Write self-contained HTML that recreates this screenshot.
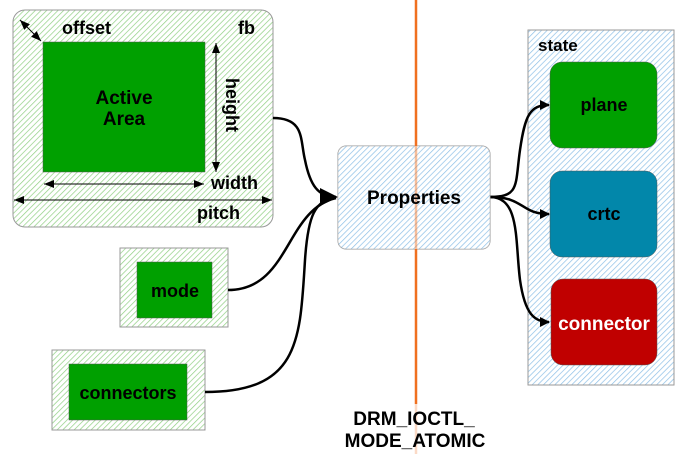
<!DOCTYPE html>
<html><head><meta charset="utf-8"><style>
html,body{margin:0;padding:0;background:#fff;width:700px;height:456px;overflow:hidden}
svg text{font-family:"Liberation Sans",sans-serif;font-weight:bold}
</style></head><body>
<svg width="700" height="456" viewBox="0 0 700 456" xmlns="http://www.w3.org/2000/svg">
<defs>
<pattern id="hg" width="4" height="4" patternUnits="userSpaceOnUse" patternTransform="rotate(45)">
<rect width="4" height="4" fill="#fff"/><line x1="0" y1="0" x2="0" y2="4" stroke="#8fcf82" stroke-width="1.4"/></pattern>
<pattern id="hb" width="4" height="4" patternUnits="userSpaceOnUse" patternTransform="rotate(45)">
<rect width="4" height="4" fill="#fff"/><line x1="0" y1="0" x2="0" y2="4" stroke="#8cbfe6" stroke-width="1.4"/></pattern>
<marker id="a" markerWidth="10" markerHeight="10" refX="9" refY="5" orient="auto" markerUnits="userSpaceOnUse"><path d="M0,0 L10,5 L0,10 Z" fill="#000"/></marker>
<marker id="s" markerWidth="10" markerHeight="10" refX="10" refY="5" orient="auto-start-reverse" markerUnits="userSpaceOnUse"><path d="M0,1 L10,5 L0,9 Z" fill="#000"/></marker>
<marker id="big" markerWidth="18" markerHeight="18" refX="16" refY="9" orient="auto" markerUnits="userSpaceOnUse"><path d="M0,0 L18,9 L0,18 Z" fill="#000"/></marker>
</defs>
<rect x="13" y="10" width="260" height="217" rx="12" fill="url(#hg)" stroke="#999"/>
<rect x="43" y="42" width="162" height="130" fill="#00a000" stroke="#555" stroke-width="0.5"/>
<text x="124" y="104" font-size="19" text-anchor="middle">Active</text>
<text x="124" y="125" font-size="19" text-anchor="middle">Area</text>
<text x="62" y="34" font-size="18">offset</text>
<text x="238" y="34" font-size="18">fb</text>
<line x1="20" y1="20" x2="41" y2="41" stroke="#000" marker-start="url(#s)" marker-end="url(#s)"/>
<line x1="216" y1="43" x2="216" y2="172" stroke="#000" marker-start="url(#s)" marker-end="url(#s)"/>
<text transform="translate(226,78) rotate(90)" font-size="18">height</text>
<line x1="44" y1="184" x2="204" y2="184" stroke="#000" marker-start="url(#s)" marker-end="url(#s)"/>
<text x="211" y="189" font-size="18">width</text>
<line x1="14" y1="200" x2="272" y2="200" stroke="#000" marker-start="url(#s)" marker-end="url(#s)"/>
<text x="197" y="219" font-size="18">pitch</text>
<rect x="120" y="248" width="108" height="79" fill="url(#hg)" stroke="#999"/>
<rect x="137" y="262" width="75" height="56" fill="#00a000" stroke="#555" stroke-width="0.5"/>
<text x="175" y="297" font-size="18" text-anchor="middle">mode</text>
<rect x="52" y="350" width="153" height="80" fill="url(#hg)" stroke="#999"/>
<rect x="69" y="364" width="118" height="56" fill="#00a000" stroke="#555" stroke-width="0.5"/>
<text x="128" y="399" font-size="18" text-anchor="middle">connectors</text>
<rect x="528" y="30" width="146" height="355" fill="url(#hb)" stroke="#999"/>
<text x="538" y="51" font-size="17">state</text>
<rect x="550" y="62" width="107" height="86" rx="12" fill="#00a000" stroke="#555" stroke-width="0.5"/>
<text x="604" y="111" font-size="18" text-anchor="middle">plane</text>
<rect x="550" y="171" width="107" height="86" rx="12" fill="#0287aa" stroke="#555" stroke-width="0.5"/>
<text x="604" y="220" font-size="18" text-anchor="middle">crtc</text>
<rect x="551" y="279" width="106" height="86" rx="12" fill="#c00000" stroke="#555" stroke-width="0.5"/>
<text x="604" y="330" font-size="19" text-anchor="middle" fill="#fff">connector</text>
<path d="M273,118 C305,118 300,140 305,160 C310,185 318,197 336,197" fill="none" stroke="#000" stroke-width="2.5" marker-end="url(#big)"/>
<path d="M228,290 C290,290 285,210 336,198" fill="none" stroke="#000" stroke-width="2.5"/>
<path d="M205,392 C300,392 300,340 305,260 C308,215 315,200 336,198" fill="none" stroke="#000" stroke-width="2.5"/>
<path d="M490,197 C520,197 515,185 520,150 C525,115 530,105 549,105" fill="none" stroke="#000" stroke-width="2.5" marker-end="url(#a)"/>
<path d="M490,197 C525,197 520,214 549,214" fill="none" stroke="#000" stroke-width="2.5" marker-end="url(#a)"/>
<path d="M490,197 C520,197 515,240 520,280 C525,315 535,322 549,322" fill="none" stroke="#000" stroke-width="2.5" marker-end="url(#a)"/>
<rect x="338" y="146" width="152" height="103" rx="8" fill="url(#hb)" stroke="#999"/>
<line x1="416" y1="0" x2="416" y2="404" stroke="#f07020" stroke-width="2.5"/>
<line x1="416" y1="404" x2="416" y2="454" stroke="#f07020" stroke-width="2.5" opacity="0.25"/>
<rect x="338" y="146" width="152" height="103" rx="8" fill="url(#hb)" opacity="0.55"/>
<text x="414" y="204" font-size="19" text-anchor="middle">Properties</text>
<text x="414" y="425" font-size="19" text-anchor="middle">DRM_IOCTL_</text>
<text x="415" y="447" font-size="19" text-anchor="middle">MODE_ATOMIC</text>
</svg>
</body></html>
